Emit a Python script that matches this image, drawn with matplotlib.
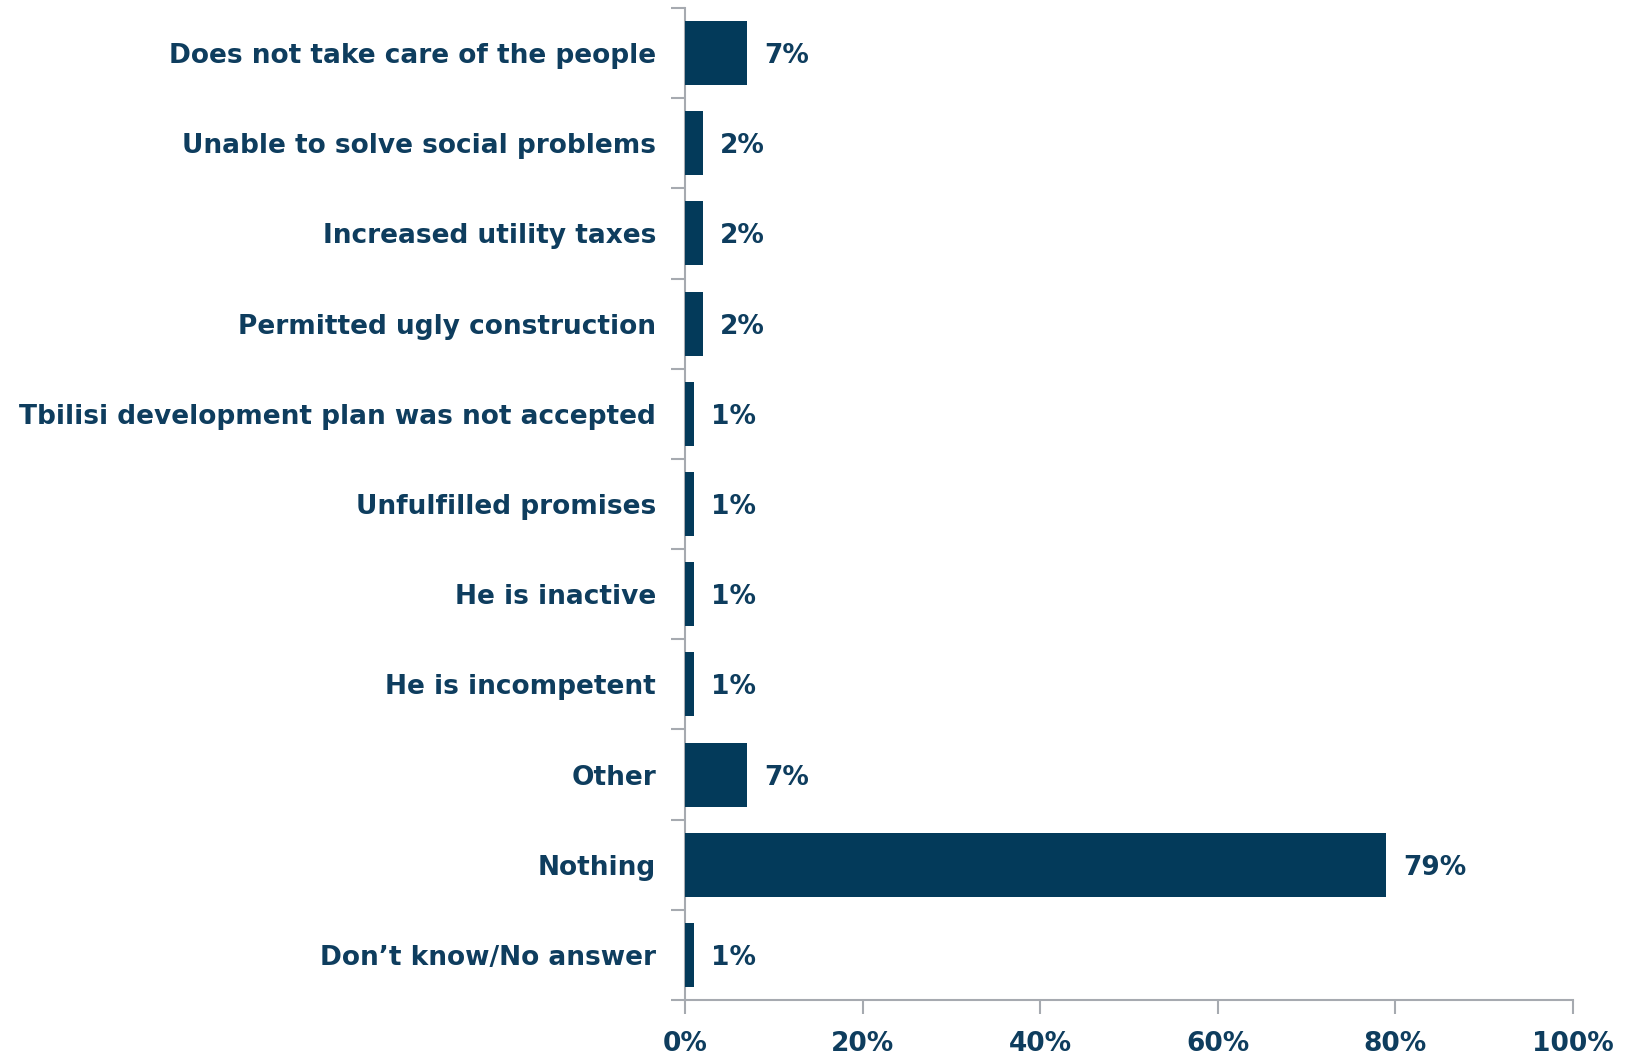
import matplotlib
matplotlib.use("Agg")
import matplotlib.pyplot as plt

categories = [
    "Does not take care of the people",
    "Unable to solve social problems",
    "Increased utility taxes",
    "Permitted ugly construction",
    "Tbilisi development plan was not accepted",
    "Unfulfilled promises",
    "He is inactive",
    "He is incompetent",
    "Other",
    "Nothing",
    "Don\u2019t know/No answer",
]
values = [7, 2, 2, 2, 1, 1, 1, 1, 7, 79, 1]
xticks = [0, 20, 40, 60, 80, 100]
xticklabels = ["0%", "20%", "40%", "60%", "80%", "100%"]

navy = "#033A5A"
text_c = "#0E3D5E"
grey = "#A6AAB0"

plt.rcParams['font.family'] = ['DejaVu Sans']
FS = 19

fig = plt.figure(figsize=(16.33, 10.55), dpi=100)
ax = fig.add_axes([0.4195, 0.0521, 0.9632 - 0.4195, 0.9924 - 0.0521])

n = len(categories)
ypos = list(range(n))
ax.barh(ypos, values, height=0.71, color=navy, zorder=3)
ax.set_ylim(n - 0.5, -0.5)
ax.set_xlim(0, 100)

for y, v in zip(ypos, values):
    ax.annotate(f"{v}%", xy=(v, y), xytext=(17, 0), textcoords="offset pixels",
                va="center_baseline", ha="left", fontsize=FS, fontweight="bold", color=text_c)

# y tick marks between categories
ax.set_yticks([i - 0.5 for i in range(n + 1)], minor=False)
ax.set_yticklabels([])
ax.set_yticks(ypos, minor=True)
ax.set_yticklabels(categories, minor=True, fontsize=FS, fontweight="bold", color=text_c,
                   va="center_baseline")
ax.tick_params(axis="y", which="major", length=10, width=1.5, color=grey, direction="out")
ax.tick_params(axis="y", which="minor", length=0, pad=21)

ax.set_xticks(xticks)
ax.set_xticklabels(xticklabels, fontsize=FS, fontweight="bold", color=text_c)
ax.tick_params(axis="x", length=10, width=1.5, color=grey, direction="out", pad=12)

for s in ["top", "right"]:
    ax.spines[s].set_visible(False)
for s in ["left", "bottom"]:
    ax.spines[s].set_color(grey)
    ax.spines[s].set_linewidth(1.5)

fig.savefig("out.png", dpi=100, facecolor="white")
